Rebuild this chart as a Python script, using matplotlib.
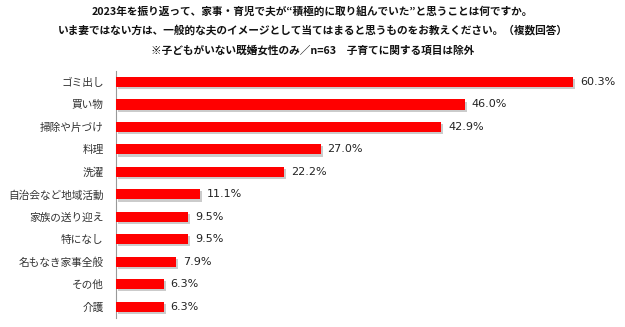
import matplotlib.pyplot as plt
import matplotlib.patheffects as pe

plt.rcParams['font.family'] = ['Noto Sans CJK JP', 'DejaVu Sans']

# 項目と割合（%）
categories = ['ゴミ出し', '買い物', '掃除や片づけ', '料理', '洗濯', '自治会など地域活動',
              '家族の送り迎え', '特になし', '名もなき家事全般', 'その他', '介護']
values = [60.3, 46.0, 42.9, 27.0, 22.2, 11.1, 9.5, 9.5, 7.9, 6.3, 6.3]

title_lines = [
    '2023年を振り返って、家事・育児で夫が“積極的に取り組んでいた”と思うことは何ですか。',
    'いま妻ではない方は、一般的な夫のイメージとして当てはまると思うものをお教えください。（複数回答）',
    '※子どもがいない既婚女性のみ／n=63　子育てに関する項目は除外',
]

fig = plt.figure(figsize=(6.25, 3.27), dpi=100)
ax = fig.add_axes([0.1856, 0.0275, 0.8064, 0.7561])

y = list(range(len(categories)))
bars = ax.barh(y, values, height=0.45, color='#ff0000', zorder=3)
for b in bars:
    b.set_path_effects([pe.SimplePatchShadow(offset=(1.5, -1.5), shadow_rgbFace='#999999', alpha=0.5),
                        pe.Normal()])

for yi, v in zip(y, values):
    ax.text(v + 0.9, yi, f'{v:.1f}%', va='center', ha='left', fontsize=8,
            family='DejaVu Sans', color='#222222')

ax.set_ylim(len(categories) - 0.5, -0.5)
ax.set_xlim(0, 60.3 * 504 / 457)
ax.set_yticks(y)
ax.set_yticklabels(categories, fontsize=7.7, color='#333333')
ax.tick_params(axis='y', length=0, pad=9)
ax.set_xticks([])
for s in ['top', 'right', 'bottom']:
    ax.spines[s].set_visible(False)
ax.spines['left'].set_color('#999999')
ax.spines['left'].set_linewidth(0.8)

for ty, line in zip([11, 30.5, 50], title_lines):
    fig.text(0.5, 1 - ty / 327, line, ha='center', va='center',
             fontsize=7.7, fontweight='bold', color='#111111')

fig.savefig('out.png', dpi=100)
